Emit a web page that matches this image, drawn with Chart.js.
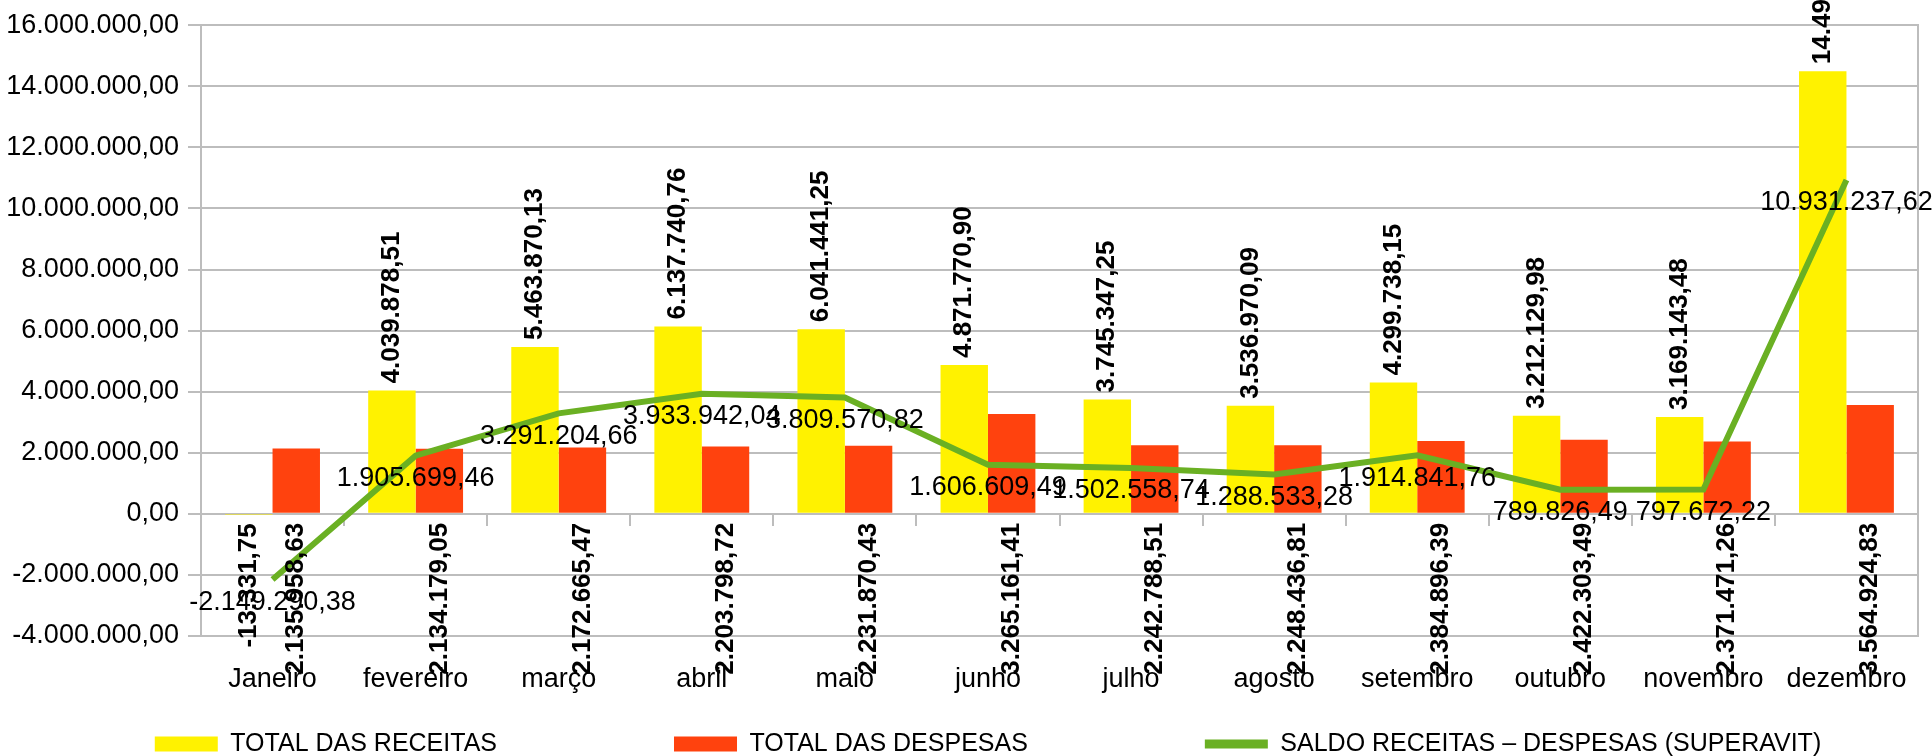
<!DOCTYPE html>
<html lang="pt-BR">
<head>
<meta charset="UTF-8">
<title>Receitas x Despesas</title>
<script src="https://cdn.jsdelivr.net/npm/chart.js@4"></script>
<style>
  html, body { margin: 0; padding: 0; background: #fff; }
  #wrap { width: 1932px; height: 756px; }
</style>
</head>
<body>
<div id="wrap"><canvas id="chart" width="1932" height="756"></canvas></div>
<script>
// values
const months = ['Janeiro', 'fevereiro', 'março', 'abril', 'maio', 'junho',
  'julho', 'agosto', 'setembro', 'outubro', 'novembro', 'dezembro'];
const receitas = [-13331.75, 4039878.51, 5463870.13, 6137740.76, 6041441.25, 4871770.90,
  3745347.25, 3536970.09, 4299738.15, 3212129.98, 3169143.48, 14496162.45];
const despesas = [2135958.63, 2134179.05, 2172665.47, 2203798.72, 2231870.43, 3265161.41,
  2242788.51, 2248436.81, 2384896.39, 2422303.49, 2371471.26, 3564924.83];
const saldo = [-2149290.38, 1905699.46, 3291204.66, 3933942.04, 3809570.82, 1606609.49,
  1502558.74, 1288533.28, 1914841.76, 789826.49, 797672.22, 10931237.62];
const yTicks = [-4000000, -2000000, 0, 2000000, 4000000, 6000000, 8000000,
  10000000, 12000000, 14000000, 16000000];
const seriesNames = ['TOTAL DAS RECEITAS', 'TOTAL DAS DESPESAS',
  'SALDO RECEITAS – DESPESAS (SUPERAVIT)'];

const YELLOW = '#fff200';
const RED = '#ff420e';
const GREEN = '#6ab023';
const GRID = '#bdbdbd';
const TEXT = '#000000';
const FONT = '"Liberation Sans", Arial, sans-serif';

// 1.234.567,89
function fmt(v) {
  const parts = Math.abs(v).toFixed(2).split('.');
  const intPart = parts[0].replace(/\B(?=(\d{3})+(?!\d))/g, '.');
  return (v < 0 ? '-' : '') + intPart + ',' + parts[1];
}

Chart.defaults.font.family = FONT;
Chart.defaults.color = TEXT;

// value labels like the spreadsheet: rotated on bars, flat under the line
const valueLabels = {
  id: 'valueLabels',
  afterDatasetsDraw(chart) {
    const ctx = chart.ctx;
    const y0 = chart.scales.y.getPixelForValue(0);
    ctx.save();
    ctx.fillStyle = TEXT;
    ctx.textBaseline = 'middle';
    ctx.font = 'bold 26px ' + FONT;
    [0, 1].forEach(di => {
      const vals = chart.data.datasets[di].data;
      chart.getDatasetMeta(di).data.forEach((bar, i) => {
        const v = vals[i];
        let ay, align;
        if (di === 0 && v >= 0) {
          ay = bar.y - 7;
          align = 'left';
        } else {
          ay = Math.max(bar.y, y0) + 9;
          align = 'right';
        }
        ctx.save();
        ctx.translate(bar.x, ay);
        ctx.rotate(-Math.PI / 2);
        ctx.textAlign = align;
        ctx.fillText(fmt(v), 0, 0);
        ctx.restore();
      });
    });
    ctx.font = '27px ' + FONT;
    ctx.textAlign = 'center';
    const lineVals = chart.data.datasets[2].data;
    chart.getDatasetMeta(2).data.forEach((pt, i) => {
      ctx.fillText(fmt(lineVals[i]), pt.x, pt.y + 23);
    });
    ctx.restore();
  }
};

// the legend uses wide gaps; put its row back at the bottom of the canvas
const legendPlace = {
  id: 'legendPlace',
  afterLayout(chart) {
    const lg = chart.legend;
    const pad = lg.options.labels.padding;
    lg.top = 744 - 12.5 - pad;
    lg.bottom = chart.height;
  }
};

const padL = 50, padR = 94;

new Chart(document.getElementById('chart').getContext('2d'), {
  type: 'bar',
  data: {
    labels: months,
    datasets: [
      {
        label: seriesNames[0],
        data: receitas,
        backgroundColor: YELLOW,
        borderWidth: 0,
        categoryPercentage: 0.663,
        barPercentage: 1,
        order: 1
      },
      {
        label: seriesNames[1],
        data: despesas,
        backgroundColor: RED,
        borderWidth: 0,
        categoryPercentage: 0.663,
        barPercentage: 1,
        order: 1
      },
      {
        type: 'line',
        label: seriesNames[2],
        data: saldo,
        borderColor: GREEN,
        backgroundColor: GREEN,
        borderWidth: 6,
        pointRadius: 0,
        tension: 0,
        order: 0
      }
    ]
  },
  options: {
    responsive: false,
    animation: false,
    devicePixelRatio: 1,
    layout: {
      autoPadding: false,
      padding: { top: 25, left: -padL, right: -padR, bottom: 0 }
    },
    plugins: {
      tooltip: { enabled: false },
      legend: {
        position: 'bottom',
        maxHeight: 60,
        labels: {
          usePointStyle: true,
          pointStyleWidth: 63,
          boxHeight: 15,
          padding: 177,
          color: TEXT,
          font: { size: 25 },
          sort: (a, b) => a.datasetIndex - b.datasetIndex,
          generateLabels(chart) {
            const items = Chart.defaults.plugins.legend.labels.generateLabels(chart);
            items.forEach(it => {
              if (it.datasetIndex === 2) {
                it.pointStyle = 'line';
                it.lineWidth = 9;
                it.strokeStyle = GREEN;
              } else {
                it.pointStyle = 'rect';
                it.lineWidth = 0;
              }
            });
            return items;
          }
        }
      }
    },
    scales: {
      x: {
        type: 'category',
        position: 'bottom',
        grid: { display: false },
        border: { display: false },
        ticks: { font: { size: 27 }, color: TEXT, padding: 19, maxRotation: 0, autoSkip: false },
        afterFit(s) { s.height = 60; }
      },
      x2: {
        type: 'category',
        axis: 'x',
        position: { y: 0 },
        grid: { display: true, drawOnChartArea: false, offset: true, tickLength: 11, color: GRID, lineWidth: 2 },
        border: { display: true, color: GRID, width: 2 },
        ticks: { display: false }
      },
      y: {
        type: 'linear',
        position: 'left',
        min: yTicks[0],
        max: yTicks[yTicks.length - 1],
        afterBuildTicks(s) { s.ticks = yTicks.map(v => ({ value: v })); },
        ticks: { callback: v => fmt(v), font: { size: 27 }, color: TEXT, padding: 9 },
        grid: { color: GRID, lineWidth: 2, tickLength: 13 },
        border: { color: GRID, width: 2 },
        afterFit(s) { s.width = 201 + padL; }
      },
      y2: {
        type: 'linear',
        position: 'right',
        grid: { display: false },
        ticks: { display: false },
        border: { display: true, color: GRID, width: 2 },
        afterFit(s) { s.width = 1932 + padR - 1918; }
      }
    }
  },
  plugins: [valueLabels, legendPlace]
});
</script>
</body>
</html>
